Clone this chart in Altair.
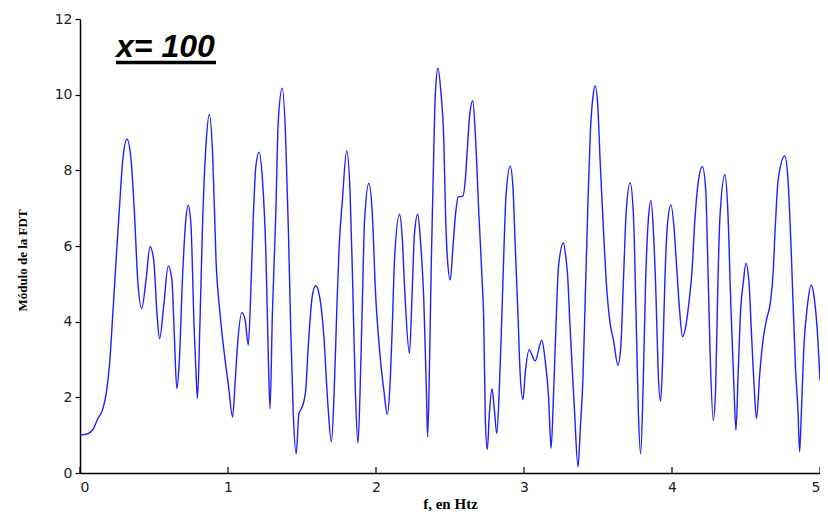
import altair as alt
import pandas as pd

# frequency (Hz) and |FDT| values
freq = [0.000, 0.054, 0.087, 0.121, 0.155, 0.177, 0.200, 0.222, 0.244, 0.267,
        0.289, 0.318, 0.345, 0.368, 0.390, 0.417, 0.446, 0.473, 0.498, 0.520,
        0.538, 0.565, 0.596, 0.621, 0.637, 0.654, 0.670, 0.693, 0.715, 0.731,
        0.749, 0.771, 0.785, 0.794, 0.810, 0.829, 0.852, 0.874, 0.897, 0.919,
        0.946, 0.975, 1.004, 1.031, 1.049, 1.065, 1.094, 1.116, 1.137, 1.155,
        1.172, 1.188, 1.210, 1.233, 1.256, 1.273, 1.284, 1.300, 1.323, 1.340,
        1.367, 1.390, 1.408, 1.424, 1.441, 1.461, 1.479, 1.502, 1.525, 1.542,
        1.569, 1.592, 1.619, 1.648, 1.673, 1.699, 1.717, 1.735, 1.751, 1.773,
        1.802, 1.825, 1.843, 1.861, 1.878, 1.892, 1.908, 1.923, 1.952, 1.975,
        1.997, 2.026, 2.053, 2.076, 2.094, 2.110, 2.125, 2.159, 2.177, 2.195,
        2.226, 2.244, 2.260, 2.282, 2.300, 2.323, 2.341, 2.349, 2.362, 2.374,
        2.389, 2.401, 2.419, 2.439, 2.458, 2.471, 2.482, 2.502, 2.520, 2.538,
        2.555, 2.587, 2.605, 2.618, 2.632, 2.654, 2.672, 2.695, 2.717, 2.728,
        2.739, 2.752, 2.766, 2.784, 2.800, 2.816, 2.833, 2.851, 2.865, 2.878,
        2.907, 2.925, 2.941, 2.959, 2.974, 2.993, 3.008, 3.035, 3.075, 3.120,
        3.143, 3.166, 3.183, 3.199, 3.215, 3.233, 3.266, 3.283, 3.295, 3.309,
        3.324, 3.340, 3.365, 3.381, 3.398, 3.414, 3.430, 3.448, 3.466, 3.481,
        3.499, 3.515, 3.537, 3.555, 3.582, 3.605, 3.634, 3.654, 3.672, 3.690,
        3.717, 3.739, 3.757, 3.773, 3.788, 3.806, 3.822, 3.840, 3.858, 3.874,
        3.892, 3.907, 3.923, 3.936, 3.952, 3.968, 3.993, 4.015, 4.030, 4.053,
        4.071, 4.094, 4.111, 4.134, 4.156, 4.179, 4.205, 4.228, 4.241, 4.257,
        4.279, 4.295, 4.309, 4.324, 4.358, 4.376, 4.398, 4.420, 4.432, 4.447,
        4.465, 4.481, 4.499, 4.519, 4.537, 4.555, 4.571, 4.593, 4.615, 4.638,
        4.667, 4.683, 4.699, 4.717, 4.762, 4.784, 4.807, 4.834, 4.852, 4.862,
        4.873, 4.891, 4.914, 4.941, 4.963, 4.986, 5.000]

modulo = [1.00, 1.04, 1.15, 1.44, 1.70, 2.10, 2.89, 4.22, 5.63, 7.04,
          8.27, 8.82, 8.27, 6.86, 5.10, 4.35, 5.10, 5.98, 5.63, 4.22,
          3.55, 4.39, 5.47, 5.10, 3.69, 2.23, 2.89, 5.19, 6.69, 7.08,
          6.60, 3.86, 2.54, 1.97, 3.90, 6.69, 8.71, 9.48, 8.36, 5.63,
          4.22, 3.16, 2.28, 1.48, 2.45, 3.42, 4.24, 4.04, 3.38, 4.92,
          6.86, 8.10, 8.48, 7.74, 5.80, 2.98, 1.70, 4.22, 6.86, 9.33,
          10.17, 8.80, 6.42, 3.78, 1.57, 0.51, 1.57, 1.75, 2.19, 3.33,
          4.66, 4.95, 4.66, 3.60, 1.92, 0.82, 2.10, 4.30, 5.98, 7.21,
          8.52, 7.39, 4.92, 2.10, 0.79, 2.10, 4.57, 6.69, 7.66, 6.86,
          4.75, 3.16, 2.19, 1.55, 2.28, 3.86, 5.63, 6.84, 6.24, 4.75,
          3.16, 4.75, 6.33, 6.84, 6.16, 4.57, 2.10, 0.95, 2.98, 5.63,
          8.27, 10.04, 10.70, 10.04, 8.80, 6.69, 5.71, 5.10, 5.98, 6.86,
          7.29, 7.32, 7.83, 8.62, 9.42, 9.84, 8.89, 6.86, 5.10, 4.04,
          1.39, 0.62, 1.57, 2.23, 1.66, 1.04, 2.19, 4.22, 5.98, 7.30,
          8.11, 7.57, 5.98, 4.22, 2.63, 1.94, 2.63, 3.25, 2.96, 3.51,
          2.98, 2.01, 0.65, 2.01, 3.78, 5.45, 6.08, 5.70, 5.20, 4.04,
          2.89, 1.75, 0.16, 1.22, 2.45, 4.66, 6.86, 8.98, 9.95, 10.23,
          9.68, 8.19, 6.42, 5.10, 3.95, 3.51, 2.85, 3.33, 5.10, 6.86,
          7.67, 6.86, 4.22, 1.57, 0.51, 2.45, 5.10, 6.69, 7.20, 6.42,
          4.66, 2.63, 1.90, 2.89, 5.10, 6.51, 7.08, 6.42, 5.54, 4.22,
          3.60, 3.90, 4.39, 5.27, 6.77, 7.74, 8.10, 7.48, 5.71, 3.25,
          1.39, 2.28, 4.83, 6.77, 7.89, 7.04, 4.39, 2.10, 1.13, 2.63,
          4.39, 5.01, 5.54, 5.10, 3.69, 2.28, 1.44, 2.63, 3.51, 4.04,
          4.57, 5.27, 6.60, 7.74, 8.38, 7.74, 5.71, 2.80, 1.57, 0.56,
          1.48, 3.33, 4.39, 4.97, 4.57, 3.51, 2.45]

x_ticks = [0, 1, 2, 3, 4, 5]
y_ticks = [0, 2, 4, 6, 8, 10, 12]
title_text = "x= 100"
x_title = "f, en Htz"
y_title = "Módulo de la FDT"

df = pd.DataFrame({"f": freq, "m": modulo})
ticks_df = pd.DataFrame({"f": x_ticks})

x_scale = alt.Scale(domain=[0, 5], nice=False, zero=False)
y_scale = alt.Scale(domain=[0, 12], nice=False)

line = alt.Chart(df).mark_line(
    interpolate="monotone", color="#1f1fff", strokeWidth=1.4, clip=True
).encode(
    x=alt.X("f:Q", scale=x_scale, axis=alt.Axis(
        values=x_ticks, format="d", tickSize=0, labelPadding=7, grid=False,
        domainColor="#000", domainWidth=1.5,
        labelFont="DejaVu Sans", labelFontSize=14, labelColor="#222",
        title=x_title, titleFont="Liberation Serif", titleFontSize=15,
        titleFontWeight="bold", titleColor="#000",
        titleY=35, titleBaseline="alphabetic")),
    y=alt.Y("m:Q", scale=y_scale, axis=alt.Axis(
        values=y_ticks, format="d", tickSize=5, labelPadding=3, grid=False,
        domainColor="#000", domainWidth=1.5, tickColor="#000", tickWidth=1.2,
        labelFont="DejaVu Sans", labelFontSize=14, labelColor="#222",
        title=y_title, titleFont="Liberation Serif", titleFontSize=13,
        titleFontWeight="bold", titleColor="#000",
        titleX=-58, titleY=241, titleAngle=-90,
        titleAlign="center", titleBaseline="middle")),
)

xticks = alt.Chart(ticks_df).mark_rule(color="#000", strokeWidth=1.2).encode(
    x=alt.X("f:Q", scale=x_scale),
    y=alt.datum(0),
    y2=alt.value(448),
)

title_df = pd.DataFrame({"t": [title_text]})
title = alt.Chart(title_df).mark_text(
    font="Liberation Sans", fontSize=32, fontWeight="bold", fontStyle="italic",
    align="left", baseline="alphabetic", color="#000"
).encode(text="t:N", x=alt.value(36), y=alt.value(38))

underline = alt.Chart(title_df).mark_rule(color="#000", strokeWidth=3.5).encode(
    x=alt.value(36), x2=alt.value(136), y=alt.value(43.5)
)

chart = alt.layer(line, xticks, title, underline).properties(
    width=740, height=454,
    autosize=alt.AutoSizeParams(type="none"),
    padding={"left": 72, "top": 11, "right": 0, "bottom": 38},
    background="#ffffff",
).configure_view(stroke=None)

chart.save("out.html", embed_options={"renderer": "svg", "actions": False})
